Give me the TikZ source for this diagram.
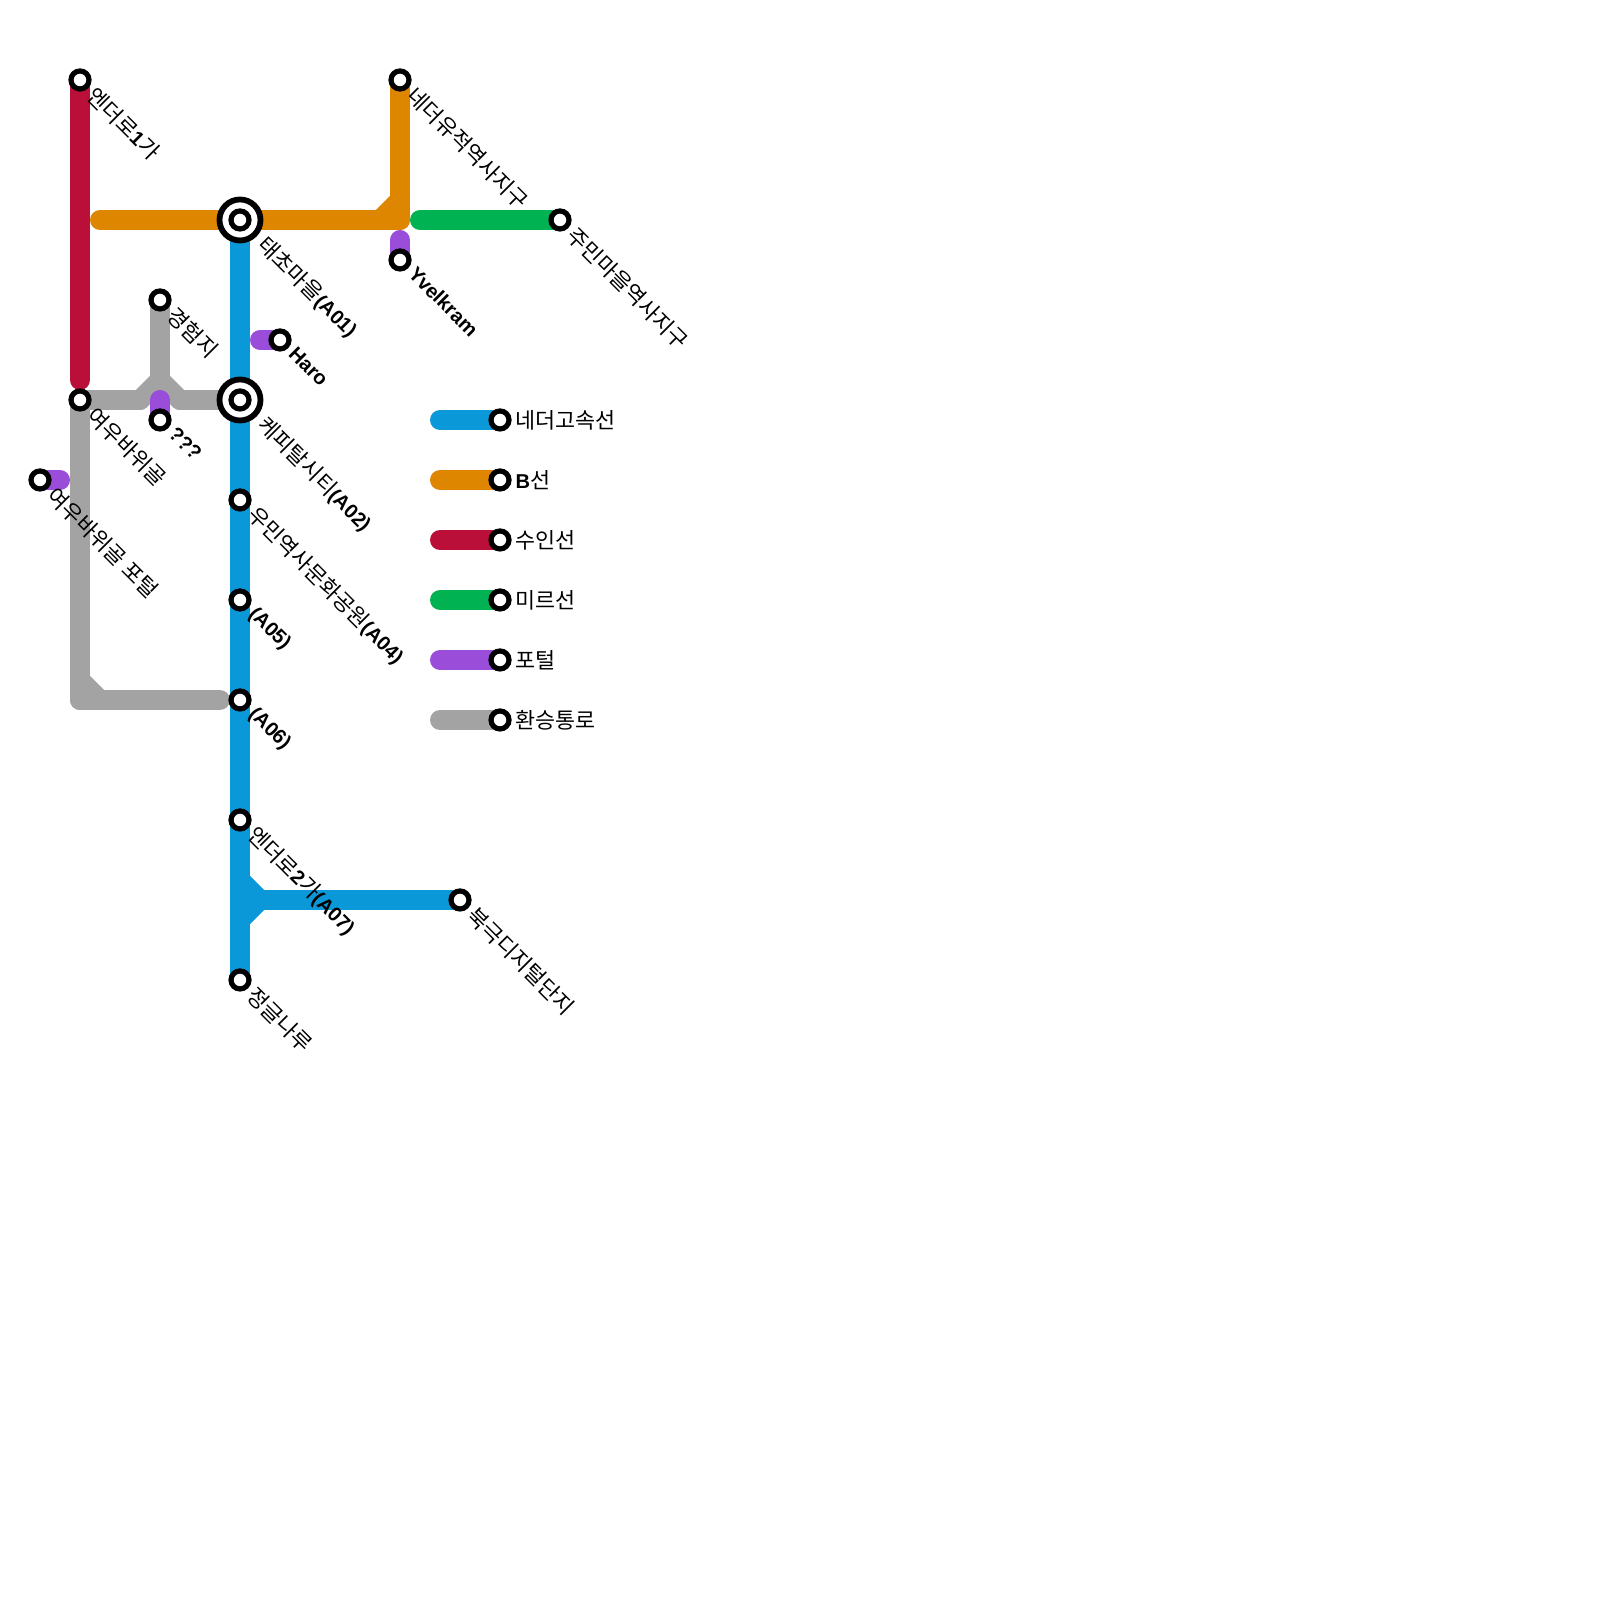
\documentclass[tikz,border=0pt]{standalone}
\usepackage{fontspec}
\usepackage{tkz-euclide}
\setmainfont{Noto Sans CJK KR}
\newfontfamily\latfont[Scale=0.92]{Liberation Sans}
\newcommand{\bl}[1]{{\latfont\bfseries #1}}
\definecolor{fastblue}{RGB}{10,152,216}
\definecolor{bline}{RGB}{223,134,0}
\definecolor{suin}{RGB}{186,15,57}
\definecolor{mir}{RGB}{0,178,81}
\definecolor{portal}{RGB}{154,77,216}
\definecolor{walk}{RGB}{163,163,163}
\tikzset{
    track/.style={line width=0.2cm, line cap=round},
    station/.style={circle, draw=black, fill=white, line width=0.052cm, minimum size=0.18cm, inner sep=0pt},
    hub/.style={circle, draw=black, fill=white, line width=0.058cm, minimum size=0.41cm, inner sep=0pt},
    lbl/.style={rotate=-45, anchor=west, inner sep=0pt, font=\fontsize{6.2}{6.5}\selectfont},
    keytext/.style={anchor=west, inner sep=0pt, font=\fontsize{6.2}{6.5}\selectfont}
}
\begin{document}
\begin{tikzpicture}
                        \useasboundingbox (0,0) rectangle (16,16);
                        \tkzDefPoints{0.8/15.2/Ena, 0.8/12.2/Enb, 1/13.8/Oa, 2.4/13.8/Tae, 4/13.8/Ob, 4/15.2/Ne, 3.8/13.8/Oc, 4/14/Od}
                        \tkzDefPoints{4.2/13.8/Gr, 5.6/13.8/Ju, 4/13.6/Pa, 4/13.4/Yv, 2.6/12.6/Pb, 2.8/12.6/Ha, 1.6/12/Pc, 1.6/11.8/Qm, 0.4/11.2/Yp, 0.6/11.2/Pd}
                        \tkzDefPoints{0.8/12/Yu, 0.8/9/Ga, 2.2/9/Gb, 0.8/9.2/Gc, 1/9/Gd, 1.4/12/Ge, 1.6/12.2/Gf, 1.8/12/Gg, 1.6/13/Ky}
                        \tkzDefPoints{2.4/12/Ca, 2.4/11/Um, 2.4/10/Af, 2.4/9/As, 2.4/7.8/Eb, 2.4/6.2/Jg, 2.4/7.2/Ba, 2.6/7/Bb, 2.4/6.8/Bc, 4.6/7/Bk}
                        \tkzDefPoints{4.4/11.8/La, 5/11.8/Lb, 4.4/11.2/Lc, 5/11.2/Ld, 4.4/10.6/Le, 5/10.6/Lf, 4.4/10/Lg, 5/10/Lh, 4.4/9.4/Li, 5/9.4/Lj, 4.4/8.8/Lk, 5/8.8/Ll}
                        \tkzDrawSegments[track, suin](Ena,Enb)
                        \tkzDrawSegments[track, bline](Oa,Tae Tae,Ob Ob,Ne Oc,Od)
                        \tkzDrawSegments[track, walk](Yu,Ga Ga,Gb Gc,Gd Yu,Ge Ge,Gf Gf,Gg Gg,Ca Gf,Ky)
                        \tkzDrawSegments[track, mir](Gr,Ju)
                        \tkzDrawSegments[track, portal](Pa,Yv Pb,Ha Pc,Qm Yp,Pd)
                        \tkzDrawSegments[track, fastblue](Tae,Jg Ba,Bb Bb,Bc Bb,Bk)
                        \tkzDrawSegments[track, fastblue](La,Lb)
                        \tkzDrawSegments[track, bline](Lc,Ld)
                        \tkzDrawSegments[track, suin](Le,Lf)
                        \tkzDrawSegments[track, mir](Lg,Lh)
                        \tkzDrawSegments[track, portal](Li,Lj)
                        \tkzDrawSegments[track, walk](Lk,Ll)
                        \node[hub] (hubTae) at (Tae) {};
                        \node[hub] (hubCa) at (Ca) {};
                        \foreach \p in {Ena,Ne,Tae,Ca,Ju,Yv,Ha,Ky,Yu,Qm,Yp,Um,Af,As,Eb,Jg,Bk,Lb,Ld,Lf,Lh,Lj,Ll}
                            \node[station] (st\p) at (\p) {};
                        \node[lbl] (lbEna) at ([shift={(0.11,-0.11)}]Ena) {엔더로\bl{1}가};
                        \node[lbl] (lbNe) at ([shift={(0.11,-0.11)}]Ne) {네더유적역사지구};
                        \node[lbl] (lbTae) at ([shift={(0.21,-0.21)}]Tae) {태초마을\bl{(A01)}};
                        \node[lbl] (lbJu) at ([shift={(0.11,-0.11)}]Ju) {주민마을역사지구};
                        \node[lbl] (lbYv) at ([shift={(0.12,-0.1)}]Yv) {\bl{Yvelkram}};
                        \node[lbl] (lbKy) at ([shift={(0.11,-0.11)}]Ky) {경험지};
                        \node[lbl] (lbHa) at ([shift={(0.12,-0.1)}]Ha) {\bl{Haro}};
                        \node[lbl] (lbYu) at ([shift={(0.11,-0.11)}]Yu) {여우바위골};
                        \node[lbl] (lbQm) at ([shift={(0.12,-0.1)}]Qm) {\bl{???}};
                        \node[lbl] (lbYp) at ([shift={(0.11,-0.11)}]Yp) {여우바위골 포털};
                        \node[lbl] (lbCa) at ([shift={(0.21,-0.21)}]Ca) {케피탈시티\bl{(A02)}};
                        \node[lbl] (lbUm) at ([shift={(0.11,-0.11)}]Um) {우민역사문화공원\bl{(A04)}};
                        \node[lbl] (lbAf) at ([shift={(0.11,-0.11)}]Af) {\bl{(A05)}};
                        \node[lbl] (lbAs) at ([shift={(0.11,-0.11)}]As) {\bl{(A06)}};
                        \node[lbl] (lbEb) at ([shift={(0.11,-0.11)}]Eb) {엔더로\bl{2}가\bl{(A07)}};
                        \node[lbl] (lbBk) at ([shift={(0.11,-0.11)}]Bk) {북극디지털단지};
                        \node[lbl] (lbJg) at ([shift={(0.11,-0.11)}]Jg) {정글나루};
                        \node[keytext] (keyLb) at ([xshift=0.15cm]Lb) {네더고속선};
                        \node[keytext] (keyLd) at ([xshift=0.15cm]Ld) {\bl{B}선};
                        \node[keytext] (keyLf) at ([xshift=0.15cm]Lf) {수인선};
                        \node[keytext] (keyLh) at ([xshift=0.15cm]Lh) {미르선};
                        \node[keytext] (keyLj) at ([xshift=0.15cm]Lj) {포털};
                        \node[keytext] (keyLl) at ([xshift=0.15cm]Ll) {환승통로};
\end{tikzpicture}
\end{document}
